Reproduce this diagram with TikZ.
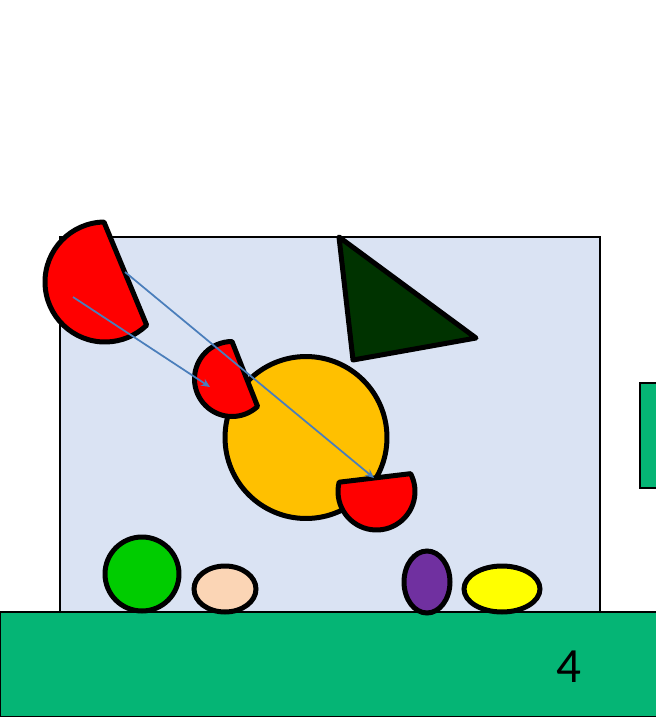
\documentclass[tikz,border=0pt]{standalone}
\usepackage{fontspec}
\setmainfont{Carlito}
\usepackage{tikz}
\usetikzlibrary{arrows.meta,shapes.geometric}
\definecolor{boardCol}{HTML}{DAE3F3}
\definecolor{floorCol}{HTML}{05B575}
\definecolor{sunCol}{HTML}{FFC000}
\definecolor{triCol}{HTML}{003300}
\definecolor{ballCol}{HTML}{00CC00}
\definecolor{peachCol}{HTML}{FBD5B5}
\definecolor{plumCol}{HTML}{7030A0}
\definecolor{lemonCol}{HTML}{FFFF00}
\definecolor{moveCol}{HTML}{4A7EBB}
\tikzset{
  panel/.style={draw=black, line width=0.04cm},
  blob/.style={draw=black, line width=0.1cm, inner sep=0pt},
  segm/.style={draw=black, fill=red, line width=0.1cm, line join=round},
  move/.style={-{Stealth[length=5pt,width=4.5pt]}, draw=moveCol, line width=0.035cm},
}
\begin{document}
\begin{tikzpicture}[x=0.02cm, y=0.02cm]
  \clip (0,0) rectangle (656,-717);
  % backdrop and floor
  \fill[white] (0,0) rectangle (656,-717);
  \path[panel, fill=boardCol] (60,-237) rectangle (600,-612);
  \path[panel, fill=floorCol] (0.5,-612) rectangle (670,-716.5);
  \path[panel, fill=floorCol] (640,-383) rectangle (670,-488);
  \node[font=\fontsize{28}{30}\selectfont] (num) at (569,-667) {4};
  % big cap and triangle
  \path[segm] (105,-282) ++(91:60) arc[start angle=91, end angle=314, radius=60] -- cycle;
  \path[blob, fill=triCol, line join=round] (339,-237) -- (476,-338) -- (353,-360) -- cycle;
  \node[blob, circle, fill=sunCol, minimum size=3.24cm] (sun) at (306,-437.5) {};
  % small caps
  \path[segm] (232,-379) ++(90:37.5) arc[start angle=90, end angle=313, radius=37.5] -- cycle;
  \path[segm] (376.5,-491.5) ++(166:38.5) arc[start angle=166, end angle=387.6, radius=38.5] -- cycle;
  % moves
  \coordinate (capA) at (73,-297);
  \coordinate (capAto) at (210,-387);
  \coordinate (capB) at (125,-272);
  \coordinate (capBto) at (374,-478);
  \draw[move] (capA) -- (capAto);
  \draw[move] (capB) -- (capBto);
  % row of balls
  \node[blob, circle, fill=ballCol, minimum size=1.48cm] (ball) at (142,-574) {};
  \node[blob, ellipse, fill=peachCol, minimum width=1.24cm, minimum height=0.92cm] (peach) at (225,-589) {};
  \node[blob, ellipse, fill=plumCol, minimum width=0.92cm, minimum height=1.24cm] (plum) at (427,-582) {};
  \node[blob, ellipse, fill=lemonCol, minimum width=1.52cm, minimum height=0.92cm] (lemon) at (502,-589) {};
\end{tikzpicture}
\end{document}
